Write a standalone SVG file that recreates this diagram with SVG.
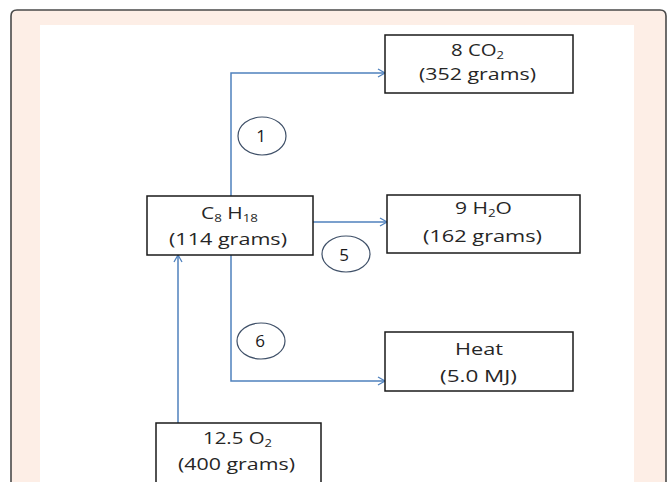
<svg xmlns="http://www.w3.org/2000/svg" width="667" height="482" viewBox="0 0 667 482">
  <style>
    .box { fill: #ffffff; stroke: #1a1a1a; stroke-width: 1.5; }
    .lbl { font-family: "Open Sans", "Liberation Sans", sans-serif; font-size: 16.5px; fill: #262626; }
    .sub { font-size: 10.5px; }
    .num { font-family: "Open Sans", "Liberation Sans", sans-serif; font-size: 17px; fill: #1a1a1a; text-anchor: middle; }
    .ring { fill: none; stroke: #3f5068; stroke-width: 1.2; }
    .flow { fill: none; stroke: #4f81bd; stroke-width: 1.5; }
  </style>
  <defs>
    <marker id="arrow" markerWidth="10" markerHeight="10" refX="8" refY="5" orient="auto" markerUnits="userSpaceOnUse">
      <path d="M1,1 L8,5 L1,9" fill="none" stroke="#4f81bd" stroke-width="1.3"/>
    </marker>
  </defs>

  <!-- frame -->
  <rect x="0" y="0" width="667" height="482" fill="#ffffff"/>
  <path d="M11,490 L11,16 Q11,10 17,10 L660,10 Q666,10 666,16 L666,490" fill="#fdeee6" stroke="#4a4a4a" stroke-width="1.6"/>
  <rect x="40" y="25" width="594" height="470" fill="#ffffff"/>

  <!-- connectors -->
  <g id="connectors">
    <polyline class="flow" points="231,196 231,73 385,73" marker-end="url(#arrow)"/>
    <polyline class="flow" points="311,222 387,222" marker-end="url(#arrow)"/>
    <polyline class="flow" points="231,255 231,381 385,381" marker-end="url(#arrow)"/>
    <polyline class="flow" points="178,423 178,255" marker-end="url(#arrow)"/>
  </g>

  <g id="step1">
    <ellipse class="ring" cx="262" cy="136" rx="24" ry="19"/>
    <text class="num" x="261" y="142">1</text>
  </g>
  <g id="step5">
    <ellipse class="ring" cx="346" cy="254" rx="24" ry="18"/>
    <text class="num" x="344" y="261">5</text>
  </g>
  <g id="step6">
    <ellipse class="ring" cx="261" cy="341" rx="24" ry="18"/>
    <text class="num" x="260" y="347">6</text>
  </g>

  <g id="co2">
    <rect class="box" x="385" y="35" width="188" height="58"/>
    <text class="lbl" x="451" y="56" textLength="53" lengthAdjust="spacingAndGlyphs">8 CO<tspan class="sub" dy="3">2</tspan></text>
    <text class="lbl" x="419" y="80" textLength="117" lengthAdjust="spacingAndGlyphs">(352 grams)</text>
  </g>

  <g id="h2o">
    <rect class="box" x="387" y="195" width="193" height="58"/>
    <text class="lbl" x="455" y="214" textLength="57" lengthAdjust="spacingAndGlyphs">9 H<tspan class="sub" dy="3">2</tspan><tspan dy="-3">O</tspan></text>
    <text class="lbl" x="423" y="242" textLength="119" lengthAdjust="spacingAndGlyphs">(162 grams)</text>
  </g>

  <g id="heat">
    <rect class="box" x="385" y="332" width="188" height="59"/>
    <text class="lbl" x="455" y="355" textLength="48" lengthAdjust="spacingAndGlyphs">Heat</text>
    <text class="lbl" x="440" y="382" textLength="77" lengthAdjust="spacingAndGlyphs">(5.0 MJ)</text>
  </g>

  <g id="octane">
    <rect class="box" x="147" y="196" width="166" height="59"/>
    <text class="lbl" x="201" y="219" textLength="57" lengthAdjust="spacingAndGlyphs">C<tspan class="sub" dy="3">8</tspan><tspan dy="-3"> H</tspan><tspan class="sub" dy="3">18</tspan></text>
    <text class="lbl" x="169" y="245" textLength="118" lengthAdjust="spacingAndGlyphs">(114 grams)</text>
  </g>

  <g id="oxygen">
    <rect class="box" x="156" y="423" width="165" height="64"/>
    <text class="lbl" x="203" y="444" textLength="69" lengthAdjust="spacingAndGlyphs">12.5 O<tspan class="sub" dy="3">2</tspan></text>
    <text class="lbl" x="178" y="470" textLength="117" lengthAdjust="spacingAndGlyphs">(400 grams)</text>
  </g>
</svg>
